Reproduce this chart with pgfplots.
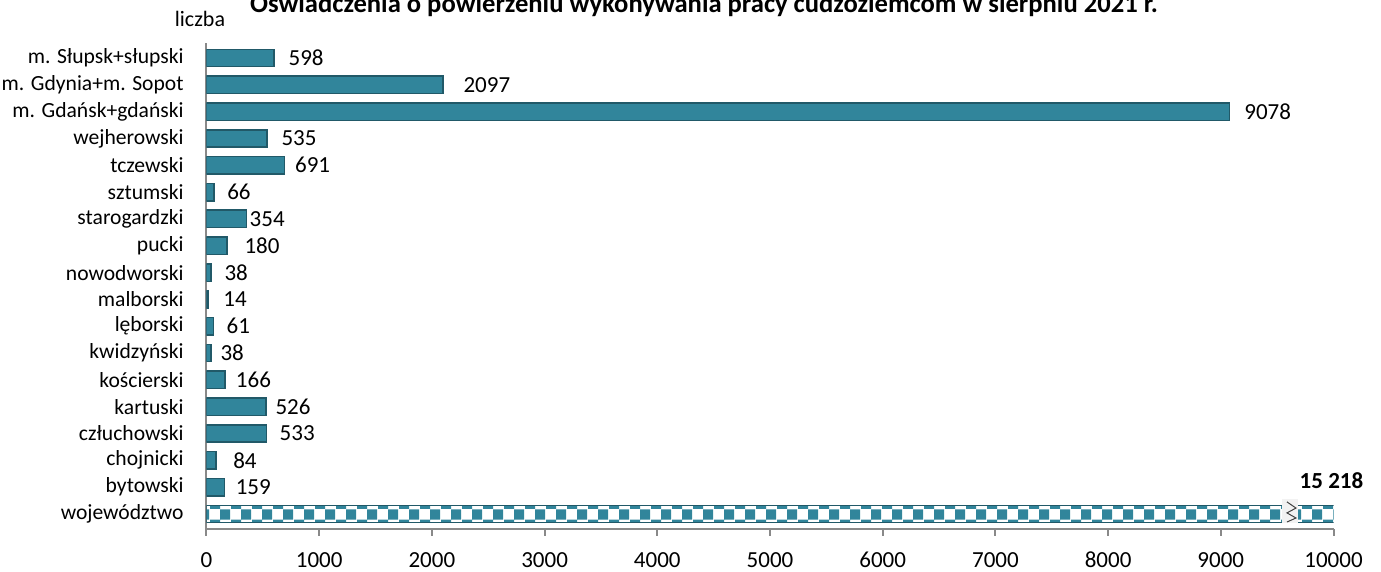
\documentclass[border=0pt]{standalone}
\usepackage{fontspec}
\setmainfont{Carlito}
\usepackage{pgfplots}
\usepackage{pgfplotstable}
\pgfplotsset{compat=1.18}
\usetikzlibrary{patterns.meta}
\definecolor{barfill}{RGB}{49,133,155}
\definecolor{barline}{RGB}{33,89,104}
\definecolor{axisgray}{RGB}{137,137,137}
\definecolor{breakgray}{RGB}{242,242,242}
\pgfdeclarepattern{
  name=bigcheck,
  type=uncolored,
  bottom left={\pgfpoint{0pt}{0pt}},
  top right={\pgfpoint{10.5pt}{10.5pt}},
  tile size={\pgfpoint{10.5pt}{10.5pt}},
  code={
    \pgfpathrectangle{\pgfpoint{0pt}{0pt}}{\pgfpoint{5.25pt}{5.25pt}}
    \pgfpathrectangle{\pgfpoint{5.25pt}{5.25pt}}{\pgfpoint{5.25pt}{5.25pt}}
    \pgfusepath{fill}
  }
}
\pgfplotstableread{
x y dx
598 17 7
2097 16 10
9078 15 7
535 14 7
691 13 5
66 12 6.3
354 11 1.3
180 10 8.5
38 9 6.5
14 8 7.3
61 7 6.3
38 6 4.5
166 5 5
526 4 4.5
533 3 6.2
84 2 8.3
159 1 5.3
}\powiaty
\pgfplotstableread{
x y
15218 0
}\wojewodztwo
\begin{document}
\begin{tikzpicture}
\begin{axis}[
  at={(0,0)}, anchor=south west,
  scale only axis, width=563.5pt, height=243pt,
  xmin=0, xmax=10000, ymin=-0.56, ymax=17.56,
  xbar, bar width=8.7pt, bar shift=0pt,
  axis x line*=bottom, axis y line*=left,
  axis line style={draw=axisgray, line width=1pt, -},
  xtick={0,1000,...,10000},
  tick align=outside, major tick length=3.5pt,
  xtick style={draw=axisgray, line width=1pt},
  ytick={0,...,17},
  yticklabels={województwo, bytowski, chojnicki, człuchowski, kartuski, kościerski, kwidzyński, lęborski, malborski, nowodworski, pucki, starogardzki, sztumski, tczewski, wejherowski, m. Gdańsk+gdański, m. Gdynia+m. Sopot, m. Słupsk+słupski},
  ytick style={draw=none},
  scaled x ticks=false,
  /pgf/number format/assume math mode=true,
  /pgf/number format/1000 sep={},
  xticklabel style={font=\fontsize{11.5}{13}\selectfont, anchor=base, inner sep=0pt, text depth=0pt, yshift=-15.6pt},
  yticklabel style={font=\fontsize{10.8}{12}\selectfont, anchor=east, inner sep=0pt, xshift=-7.75pt},
  clip mode=individual,
]
\addplot[draw=barline, line width=0.75pt, fill=barfill,
  point meta=x,
  nodes near coords,
  visualization depends on={\thisrow{dx}\as\dx},
  every node near coord/.append style={anchor=west, inner sep=0pt, xshift=\dx pt, font=\fontsize{11.5}{13}\selectfont, text=black},
] table[x=x, y=y] {\powiaty};
\addplot[draw=barline, line width=0.75pt, pattern=bigcheck, pattern color=barfill] table[x=x, y=y] {\wojewodztwo};
\fill[breakgray] (axis cs:9543,-0.34) rectangle (axis cs:9685,0.56);
\draw[black!75, line width=0.5pt] (axis cs:9587,0.45) -- (axis cs:9667,0.22) -- (axis cs:9587,0.04) -- (axis cs:9667,-0.15) -- (axis cs:9587,-0.30);
\node[font=\fontsize{11.5}{13}\selectfont\bfseries, inner sep=0pt, anchor=center] at (axis cs:9982,1.24) {15 218};
\end{axis}
\node[font=\fontsize{11}{13}\selectfont, inner sep=0pt, anchor=center] at (-3.25pt,255pt) {liczba};
\node[font=\fontsize{13.3}{15}\selectfont\bfseries, inner sep=0pt, anchor=base] at (248.75pt,258pt) {Oświadczenia o powierzeniu wykonywania pracy cudzoziemcom w sierpniu 2021 r.};
\pgfresetboundingbox
\useasboundingbox (-103.25pt,-21.5pt) rectangle (587.25pt,264.5pt);
\end{tikzpicture}
\end{document}
